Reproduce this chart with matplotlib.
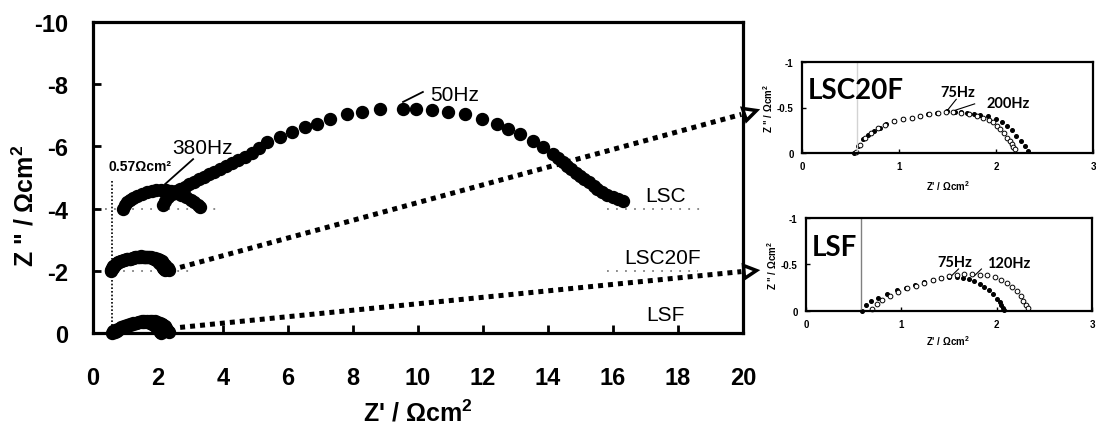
import numpy as np
import matplotlib
matplotlib.use("Agg")
import matplotlib.pyplot as plt
from matplotlib.markers import MarkerStyle
from matplotlib.transforms import Affine2D

plt.rcParams['font.family'] = ['Liberation Sans', 'DejaVu Sans']
plt.rcParams['axes.unicode_minus'] = False
plt.rcParams['mathtext.fontset'] = 'custom'
plt.rcParams['mathtext.rm'] = 'Liberation Sans:bold'
plt.rcParams['mathtext.bf'] = 'Liberation Sans:bold'

# LSC, big arc (Z' , Z'' before the -4 offset)
lsc_big_x = [2.15, 2.22, 2.30, 2.42, 2.55, 2.68, 2.82, 2.96, 3.10, 3.25, 3.40, 3.56,
             3.72, 3.90, 4.08, 4.27, 4.47, 4.68, 4.90, 5.12, 5.35, 5.75, 6.12, 6.52,
             6.89, 7.29, 7.82, 8.28, 8.83, 9.54, 9.94, 10.43, 10.92, 11.45, 11.97,
             12.43, 12.77, 13.14, 13.54, 13.85, 14.15, 14.30, 14.45, 14.58, 14.72,
             14.85, 14.98, 15.12, 15.26, 15.40, 15.51, 15.65, 15.80, 16.00, 16.15, 16.31]
lsc_big_y = [-0.10, -0.25, -0.38, -0.47, -0.55, -0.63, -0.71, -0.79, -0.87, -0.95, -1.03, -1.11,
             -1.19, -1.28, -1.37, -1.46, -1.56, -1.67, -1.79, -1.96, -2.14, -2.30, -2.46, -2.62,
             -2.72, -2.88, -3.04, -3.11, -3.20, -3.20, -3.19, -3.16, -3.11, -3.04, -2.88,
             -2.72, -2.56, -2.40, -2.17, -1.98, -1.76, -1.64, -1.50, -1.37, -1.26,
             -1.15, -1.05, -0.95, -0.85, -0.74, -0.63, -0.53, -0.44, -0.37, -0.30, -0.24]
# LSC, small arc
lsc_small_x = [0.93, 0.98, 1.05, 1.14, 1.24, 1.36, 1.50, 1.65, 1.80, 1.95, 2.10, 2.25,
               2.40, 2.55, 2.70, 2.85, 3.00, 3.12, 3.22, 3.29]
lsc_small_y = [0.01, -0.10, -0.20, -0.28, -0.34, -0.40, -0.46, -0.52, -0.56, -0.59, -0.61, -0.60,
               -0.56, -0.50, -0.44, -0.37, -0.28, -0.20, -0.12, -0.05]

# LSC20F (inset), filled and open symbols
lscf_fill_x = [0.54, 0.58, 0.63, 0.68, 0.74, 0.80, 0.87, 0.95, 1.04, 1.13, 1.22, 1.30, 1.39, 1.49,
               1.58, 1.64, 1.70, 1.77, 1.84, 1.92, 2.00, 2.06, 2.11, 2.16, 2.21, 2.26, 2.30, 2.33]
lscf_fill_y = [0.00, -0.08, -0.15, -0.20, -0.24, -0.28, -0.32, -0.35, -0.37, -0.39, -0.41, -0.43, -0.44, -0.46,
               -0.45, -0.45, -0.44, -0.43, -0.42, -0.41, -0.37, -0.34, -0.30, -0.25, -0.19, -0.13, -0.08, -0.02]
lscf_open_x = [0.56, 0.60, 0.65, 0.71, 0.78, 0.86, 0.95, 1.04, 1.13, 1.22, 1.31, 1.40, 1.48, 1.56,
               1.64, 1.72, 1.80, 1.87, 1.93, 1.97, 2.01, 2.04, 2.08, 2.11, 2.14, 2.16, 2.18, 2.20]
lscf_open_y = [-0.01, -0.09, -0.16, -0.22, -0.27, -0.31, -0.35, -0.37, -0.39, -0.41, -0.43, -0.44, -0.45, -0.45,
               -0.44, -0.43, -0.41, -0.39, -0.36, -0.34, -0.30, -0.26, -0.22, -0.17, -0.13, -0.10, -0.07, -0.04]

# LSF (inset), filled and open symbols
lsf_fill_x = [0.59, 0.63, 0.68, 0.76, 0.85, 0.95, 1.05, 1.14, 1.24, 1.33, 1.42, 1.50, 1.58,
              1.65, 1.71, 1.76, 1.82, 1.87, 1.92, 1.96, 2.00, 2.03, 2.05, 2.07, 2.08]
lsf_fill_y = [0.00, -0.06, -0.10, -0.14, -0.18, -0.22, -0.25, -0.28, -0.31, -0.33, -0.35, -0.36, -0.36,
              -0.35, -0.34, -0.32, -0.29, -0.26, -0.22, -0.18, -0.13, -0.09, -0.06, -0.03, -0.01]
lsf_open_x = [0.69, 0.74, 0.80, 0.88, 0.97, 1.06, 1.15, 1.24, 1.33, 1.42, 1.50, 1.58, 1.66,
              1.74, 1.82, 1.90, 1.98, 2.05, 2.11, 2.16, 2.21, 2.25, 2.28, 2.31, 2.33]
lsf_open_y = [-0.02, -0.07, -0.12, -0.16, -0.20, -0.24, -0.27, -0.30, -0.33, -0.35, -0.37, -0.39, -0.40,
              -0.40, -0.39, -0.38, -0.36, -0.33, -0.30, -0.26, -0.21, -0.16, -0.11, -0.06, -0.03]

r_ohm = 0.57
offsets = {'LSC': -4, 'LSC20F': -2, 'LSF': 0}

fig = plt.figure(figsize=(10.96, 4.31), dpi=100)
ax = fig.add_axes([93/1096, 1-334/431, 650/1096, 311/431])

ms = 8.6
def big(x, y, off):
    ax.plot(x, np.array(y) + off, 'o', color='black', ms=ms, mec='black', clip_on=False, zorder=3)

big(lsc_small_x, lsc_small_y, offsets['LSC'])
big(lsc_big_x, lsc_big_y, offsets['LSC'])
big(lscf_fill_x, lscf_fill_y, offsets['LSC20F'])
big(lscf_open_x, lscf_open_y, offsets['LSC20F'])
big(lsf_fill_x, lsf_fill_y, offsets['LSF'])
big(lsf_open_x, lsf_open_y, offsets['LSF'])

# grey baselines
gstyle = dict(color='gray', lw=1.3, ls=(0, (1, 4)), zorder=1)
ax.plot([0.1, 3.9], [-4, -4], **gstyle)
ax.plot([0.1, 2.95], [-2, -2], **gstyle)
ax.plot([15.8, 18.7], [-4, -4], **gstyle)
ax.plot([15.8, 18.6], [-2, -2], **gstyle)

# R_ohm line
ax.plot([r_ohm, r_ohm], [0, -4.95], color='black', lw=1.2, ls=(0, (1, 1.2)), zorder=1)
ax.text(1.45, -5.37, '0.57Ωcm²', fontsize=10, fontweight='bold', ha='center', va='center')

# frequency labels
ax.plot([2.22, 3.08], [-4.79, -5.59], color='black', lw=1.3)
ax.text(3.37, -5.98, '380Hz', fontsize=15, ha='center', va='center')
ax.plot([9.54, 10.15], [-7.43, -7.75], color='black', lw=1.3)
ax.text(11.14, -7.68, '50Hz', fontsize=15, ha='center', va='center')

ax.text(17.63, -4.41, 'LSC', fontsize=15, ha='center', va='center')
ax.text(17.53, -2.44, 'LSC20F', fontsize=15, ha='center', va='center')
ax.text(17.6, -0.61, 'LSF', fontsize=15, ha='center', va='center')

# dotted arrows to the insets
for (x0, y0, x1, y1, ang) in [(2.68, -2.11, 20.2, -7.1, 15.2), (2.68, -0.18, 20.2, -2.0, 5.6)]:
    ax.plot([x0, x1 - 0.25], [y0, y1 + (y0 - y1) * 0.25 / (x1 - x0)], color='black', lw=3.6,
            ls=(0, (1, 1)), dash_capstyle='butt', clip_on=False, zorder=2)
    mk = MarkerStyle('>', transform=Affine2D().rotate_deg(ang))
    ax.plot([x1], [y1], marker=mk, ms=9, mfc='white', mec='black', mew=2.5,
            clip_on=False, zorder=4)

ax.set_xlim(0, 20)
ax.set_ylim(0, -10)
ax.set_xticks(np.arange(0, 21, 2))
ax.set_yticks(np.arange(0, -11, -2))
ax.tick_params(axis='x', direction='in', length=6, width=2, pad=24, labelsize=17)
ax.tick_params(axis='y', direction='in', length=6, width=2, pad=18, labelsize=17)
for lab in ax.get_xticklabels() + ax.get_yticklabels():
    lab.set_fontweight('bold')
for sp in ax.spines.values():
    sp.set_linewidth(2.3)

fig.text(418/1096, 1-413/431, r"Z' / Ωcm$^{2}$", fontsize=18, fontweight='bold',
         ha='center', va='center')
fig.text(25/1096, 1-206/431, r'Z " / Ωcm$^{2}$', fontsize=18, fontweight='bold',
         ha='center', va='center', rotation=90)

# insets
def inset(rect, fx, fy, ox, oy, name, ann, rline, lcol, ylab_x):
    a = fig.add_axes(rect)
    a.plot(fx, fy, 'o', color='black', ms=2.6, clip_on=False)
    a.plot(ox, oy, 'o', mfc='white', mec='black', ms=3.4, mew=0.7, clip_on=False)
    a.axvline(rline, color=lcol, lw=1)
    a.set_xlim(0, 3)
    a.set_ylim(0, -1)
    a.set_xticks([0, 1, 2, 3])
    a.set_yticks([0, -0.5, -1])
    a.set_yticklabels(['0', '-0.5', '-1'])
    a.tick_params(direction='in', length=3, width=1, labelsize=7, pad=6)
    for lab in a.get_xticklabels() + a.get_yticklabels():
        lab.set_fontweight('bold')
    for sp in a.spines.values():
        sp.set_linewidth(1.6)
    a.text(0.06, -0.69, name, fontsize=20, fontweight='bold', family='Lato',
           ha='left', va='center')
    for (lx, ly, tx, ty, t) in ann:
        a.plot(lx, ly, color='black', lw=0.8)
        a.text(tx, ty, t, fontsize=10.5, fontweight='bold', family='Lato',
               ha='center', va='center')
    pos = a.get_position()
    fig.text(ylab_x/1096, pos.y0 + pos.height/2, r'Z " / Ωcm$^{2}$', fontsize=7,
             fontweight='bold', rotation=90, ha='center', va='center')
    return a

a1 = inset([802/1096, 1-154/431, 291/1096, 91/431], lscf_fill_x, lscf_fill_y,
           lscf_open_x, lscf_open_y, 'LSC20F',
           [([1.50, 1.59], [-0.47, -0.59], 1.61, -0.67, '75Hz'),
            ([1.58, 1.78], [-0.47, -0.54], 2.13, -0.55, '200Hz')],
           0.57, 'lightgray', 768)
a2 = inset([806/1096, 1-311.7/431, 286/1096, 92.7/431], lsf_fill_x, lsf_fill_y,
           lsf_open_x, lsf_open_y, 'LSF',
           [([1.53, 1.60], [-0.38, -0.45], 1.56, -0.53, '75Hz'),
            ([1.77, 1.84], [-0.38, -0.45], 2.13, -0.51, '120Hz')],
           0.58, 'gray', 772)
fig.text(948/1096, 1-186/431, r"Z' / Ωcm$^{2}$", fontsize=7, fontweight='bold', ha='center', va='center')
fig.text(948/1096, 1-341/431, r"Z' / Ωcm$^{2}$", fontsize=7, fontweight='bold', ha='center', va='center')

fig.savefig('out.png', dpi=100)
